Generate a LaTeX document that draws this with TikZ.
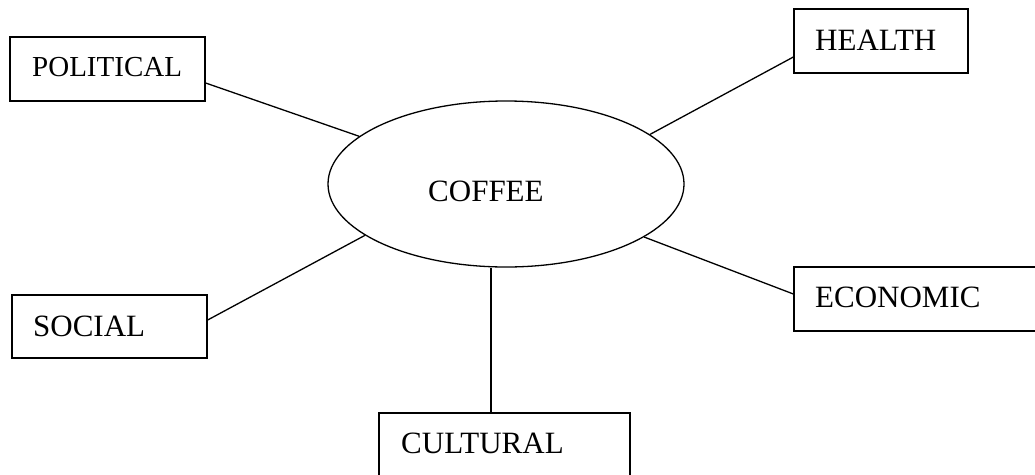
\documentclass[tikz,border=0pt]{standalone}
\usepackage{fontspec}
\setmainfont{Liberation Serif}
\usetikzlibrary{shapes.geometric}
\begin{document}
\begin{tikzpicture}[x=1pt,y=-1pt,
  box/.style={draw,line width=1.3pt,rectangle,minimum height=64pt,inner sep=0pt},
  lbl/.style={anchor=base west,inner sep=0pt,font=\fontsize{31}{36}\selectfont},
  conn/.style={line width=1.3pt}]
\useasboundingbox (0,0) rectangle (1035,474);
\clip (0,0) rectangle (1035,474);
% central ellipse
\node[draw,ellipse,line width=1.3pt,minimum width=356pt,minimum height=166pt,inner sep=0pt] (cof) at (506,184) {};
\node[lbl] (coft) at (428,201) {COFFEE};
% boxes
\node[box,minimum width=195pt] (pol) at (107.5,69) {};
\node[lbl,font=\fontsize{29}{34}\selectfont] (polt) at (32,76) {POLITICAL};
\node[box,minimum width=174pt] (hea) at (881,41) {};
\node[lbl] (heat) at (815,50) {HEALTH};
\node[box,minimum width=195pt,minimum height=63pt] (soc) at (109.5,326.5) {};
\node[lbl] (soct) at (33,336) {SOCIAL};
\node[box,minimum width=260pt] (eco) at (924,299) {};
\node[lbl] (ecot) at (815,307) {ECONOMIC};
\node[box,minimum width=251pt] (cul) at (504.5,445) {};
\node[lbl] (cult) at (401,453) {CULTURAL};
% connectors
\draw[conn] ([yshift=-14pt]pol.east) -- (cof.162.5);
\draw[conn] ([yshift=-16pt]hea.west) -- (cof.19.9);
\draw[conn] ([yshift=6.5pt]soc.east) -- (cof.200.1);
\draw[conn] ([yshift=5pt]eco.west) -- (cof.339.1);
\coordinate (ct) at ([xshift=-13.5pt]cul.north);
\draw[conn] (ct) -- (ct |- cof.south);
\end{tikzpicture}
\end{document}
